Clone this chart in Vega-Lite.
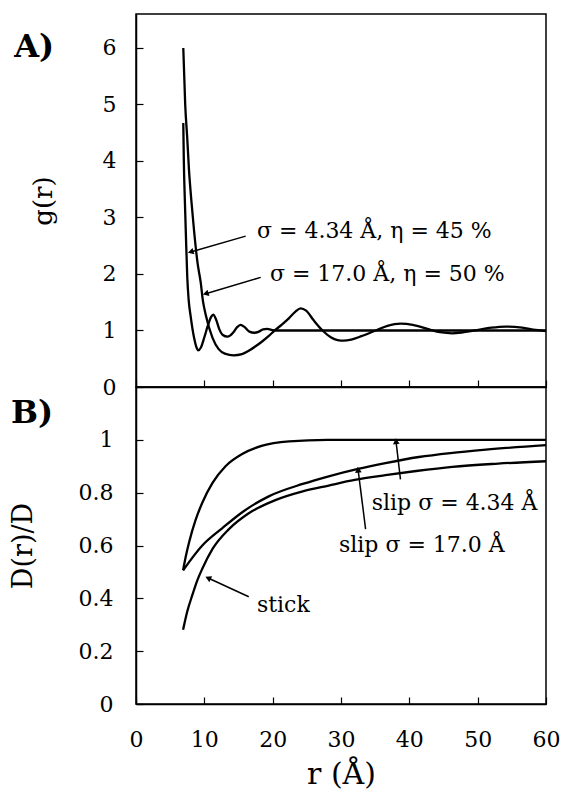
{
  "$schema": "https://vega.github.io/schema/vega-lite/v6.json",
  "padding": {"left": 8, "top": 13, "right": 5, "bottom": 5},
  "background": "white",
  "spacing": 0,
  "bounds": "flush",
  "config": {
    "view": {"stroke": "black", "strokeWidth": 1.5},
    "font": "DejaVu Serif",
    "axis": {
      "grid": false,
      "domainColor": "black",
      "domainWidth": 1.5,
      "tickColor": "black",
      "tickWidth": 1.2,
      "tickSize": -7,
      "labelColor": "black",
      "titleColor": "black",
      "labelFont": "DejaVu Serif",
      "titleFont": "DejaVu Serif",
      "titleFontWeight": "normal",
      "labelFontSize": 22,
      "titleFontSize": 26,
      "labelFlush": false,
      "labelOverlap": false
    }
  },
  "datasets": {
    "ga": [
      {"series": "s434", "r": 6.92, "v": 4.67},
      {"series": "s434", "r": 7.0, "v": 4.0},
      {"series": "s434", "r": 7.15, "v": 3.3},
      {"series": "s434", "r": 7.3, "v": 2.7},
      {"series": "s434", "r": 7.5, "v": 1.95},
      {"series": "s434", "r": 7.7, "v": 1.55},
      {"series": "s434", "r": 8.0, "v": 1.25},
      {"series": "s434", "r": 8.5, "v": 0.87},
      {"series": "s434", "r": 8.8, "v": 0.72},
      {"series": "s434", "r": 9.1, "v": 0.65},
      {"series": "s434", "r": 9.5, "v": 0.7},
      {"series": "s434", "r": 10.0, "v": 0.88},
      {"series": "s434", "r": 10.5, "v": 1.08},
      {"series": "s434", "r": 11.0, "v": 1.24},
      {"series": "s434", "r": 11.3, "v": 1.28},
      {"series": "s434", "r": 11.7, "v": 1.2},
      {"series": "s434", "r": 12.2, "v": 1.02},
      {"series": "s434", "r": 12.7, "v": 0.92},
      {"series": "s434", "r": 13.4, "v": 0.89},
      {"series": "s434", "r": 14.2, "v": 0.96},
      {"series": "s434", "r": 14.8, "v": 1.06},
      {"series": "s434", "r": 15.3, "v": 1.1},
      {"series": "s434", "r": 15.9, "v": 1.06},
      {"series": "s434", "r": 16.6, "v": 0.98},
      {"series": "s434", "r": 17.3, "v": 0.96},
      {"series": "s434", "r": 18.0, "v": 0.98},
      {"series": "s434", "r": 18.6, "v": 1.02},
      {"series": "s434", "r": 19.2, "v": 1.03},
      {"series": "s434", "r": 19.8, "v": 1.01},
      {"series": "s434", "r": 20.5, "v": 1.0},
      {"series": "s434", "r": 30, "v": 1.0},
      {"series": "s434", "r": 45, "v": 1.0},
      {"series": "s434", "r": 60, "v": 1.0},
      {"series": "s17", "r": 6.92, "v": 6.0},
      {"series": "s17", "r": 7.2, "v": 5.0},
      {"series": "s17", "r": 7.5, "v": 4.4},
      {"series": "s17", "r": 7.75, "v": 3.85},
      {"series": "s17", "r": 8.1, "v": 3.3},
      {"series": "s17", "r": 8.5, "v": 2.76},
      {"series": "s17", "r": 9.0, "v": 2.2},
      {"series": "s17", "r": 9.47, "v": 1.85},
      {"series": "s17", "r": 9.8, "v": 1.52},
      {"series": "s17", "r": 10.2, "v": 1.28},
      {"series": "s17", "r": 11.2, "v": 0.87},
      {"series": "s17", "r": 12.1, "v": 0.67},
      {"series": "s17", "r": 13.0, "v": 0.59},
      {"series": "s17", "r": 14.3, "v": 0.56},
      {"series": "s17", "r": 15.5, "v": 0.58},
      {"series": "s17", "r": 16.5, "v": 0.64},
      {"series": "s17", "r": 17.5, "v": 0.72},
      {"series": "s17", "r": 18.5, "v": 0.81},
      {"series": "s17", "r": 19.4, "v": 0.9},
      {"series": "s17", "r": 20.3, "v": 1.0},
      {"series": "s17", "r": 21.3, "v": 1.1},
      {"series": "s17", "r": 22.4, "v": 1.22},
      {"series": "s17", "r": 23.3, "v": 1.33},
      {"series": "s17", "r": 24.1, "v": 1.39},
      {"series": "s17", "r": 24.9, "v": 1.35},
      {"series": "s17", "r": 26.0, "v": 1.18},
      {"series": "s17", "r": 27.3, "v": 1.0},
      {"series": "s17", "r": 28.5, "v": 0.88},
      {"series": "s17", "r": 29.5, "v": 0.83},
      {"series": "s17", "r": 30.4, "v": 0.82},
      {"series": "s17", "r": 31.5, "v": 0.84},
      {"series": "s17", "r": 33.0, "v": 0.9},
      {"series": "s17", "r": 35.1, "v": 1.0},
      {"series": "s17", "r": 36.8, "v": 1.08},
      {"series": "s17", "r": 38.7, "v": 1.12},
      {"series": "s17", "r": 40.5, "v": 1.1},
      {"series": "s17", "r": 42.9, "v": 1.02},
      {"series": "s17", "r": 44.5, "v": 0.97},
      {"series": "s17", "r": 46.3, "v": 0.95},
      {"series": "s17", "r": 48.0, "v": 0.97},
      {"series": "s17", "r": 49.7, "v": 1.0},
      {"series": "s17", "r": 52.0, "v": 1.05},
      {"series": "s17", "r": 54.1, "v": 1.07},
      {"series": "s17", "r": 56.5, "v": 1.05},
      {"series": "s17", "r": 58.5, "v": 1.01},
      {"series": "s17", "r": 60, "v": 0.99}
    ],
    "db": [
      {"series": "slip434", "r": 6.89, "v": 0.506},
      {"series": "slip434", "r": 7.3, "v": 0.56},
      {"series": "slip434", "r": 7.8, "v": 0.615},
      {"series": "slip434", "r": 8.7, "v": 0.695},
      {"series": "slip434", "r": 9.7, "v": 0.762},
      {"series": "slip434", "r": 11.2, "v": 0.837},
      {"series": "slip434", "r": 13.1, "v": 0.9},
      {"series": "slip434", "r": 15.6, "v": 0.947},
      {"series": "slip434", "r": 18.5, "v": 0.978},
      {"series": "slip434", "r": 22.4, "v": 0.994},
      {"series": "slip434", "r": 28.0, "v": 1.0},
      {"series": "slip434", "r": 40, "v": 1.0},
      {"series": "slip434", "r": 60, "v": 1.0},
      {"series": "slip17", "r": 6.89, "v": 0.506},
      {"series": "slip17", "r": 9.7, "v": 0.6},
      {"series": "slip17", "r": 12.6, "v": 0.665},
      {"series": "slip17", "r": 15.6, "v": 0.727},
      {"series": "slip17", "r": 19.5, "v": 0.787},
      {"series": "slip17", "r": 24.4, "v": 0.833},
      {"series": "slip17", "r": 28.2, "v": 0.862},
      {"series": "slip17", "r": 32.5, "v": 0.89},
      {"series": "slip17", "r": 36.5, "v": 0.912},
      {"series": "slip17", "r": 41.4, "v": 0.935},
      {"series": "slip17", "r": 46.0, "v": 0.95},
      {"series": "slip17", "r": 51.2, "v": 0.963},
      {"series": "slip17", "r": 60, "v": 0.98},
      {"series": "stick", "r": 6.89, "v": 0.281},
      {"series": "stick", "r": 7.5, "v": 0.35},
      {"series": "stick", "r": 8.24, "v": 0.412},
      {"series": "stick", "r": 9.0, "v": 0.47},
      {"series": "stick", "r": 9.7, "v": 0.512},
      {"series": "stick", "r": 11.2, "v": 0.587},
      {"series": "stick", "r": 13.6, "v": 0.662},
      {"series": "stick", "r": 16.5, "v": 0.722},
      {"series": "stick", "r": 20.4, "v": 0.772},
      {"series": "stick", "r": 24.4, "v": 0.805},
      {"series": "stick", "r": 28.2, "v": 0.827},
      {"series": "stick", "r": 32.0, "v": 0.848},
      {"series": "stick", "r": 36.5, "v": 0.866},
      {"series": "stick", "r": 41.0, "v": 0.882},
      {"series": "stick", "r": 46.3, "v": 0.898},
      {"series": "stick", "r": 53.0, "v": 0.91},
      {"series": "stick", "r": 60, "v": 0.919}
    ],
    "txtA": [
      {"r": 17.7, "v": 2.76, "label": "σ = 4.34 Å, η = 45 %"},
      {"r": 19.6, "v": 2.0, "label": "σ = 17.0 Å, η = 50 %"}
    ],
    "txtB": [
      {"r": 34.5, "v": 0.762, "label": "slip σ = 4.34 Å"},
      {"r": 29.7, "v": 0.601, "label": "slip σ = 17.0 Å"},
      {"r": 17.7, "v": 0.376, "label": "stick"}
    ],
    "panA": [{"r": -14.9, "v": 6.02, "label": "A)"}],
    "panB": [{"r": -15.2, "v": 1.1, "label": "B)"}],
    "arrA": [
      {"id": "a1", "r": 8.0, "v": 2.39, "r2": 16.05, "v2": 2.67},
      {"id": "a2", "r": 10.2, "v": 1.65, "r2": 18.25, "v2": 1.94}
    ],
    "arrB": [
      {"id": "b1", "r": 38.05, "v": 0.995, "r2": 38.7, "v2": 0.85},
      {"id": "b2", "r": 32.5, "v": 0.887, "r2": 33.6, "v2": 0.662},
      {"id": "b3", "r": 10.55, "v": 0.477, "r2": 16.5, "v2": 0.406}
    ]
  },
  "vconcat": [
    {
      "width": 410,
      "height": 373,
      "encoding": {
        "x": {"field": "r", "type": "quantitative", "scale": {"domain": [0, 60], "nice": false, "zero": false},
              "axis": {"values": [0, 10, 20, 30, 40, 50, 60], "labels": false, "title": null}},
        "y": {"field": "v", "type": "quantitative", "scale": {"domain": [0, 6.6], "nice": false},
              "axis": {"values": [0, 1, 2, 3, 4, 5, 6], "title": "g(r)", "labelPadding": 27, "titlePadding": 46, "format": "d"}}
      },
      "layer": [
        {"data": {"name": "ga"}, "mark": {"type": "line", "color": "black", "strokeWidth": 2.3, "interpolate": "monotone"},
         "encoding": {"detail": {"field": "series"}}},
        {"data": {"name": "arrA"}, "mark": {"type": "rule", "color": "black", "strokeWidth": 1.5},
         "encoding": {"x2": {"field": "r2"}, "y2": {"field": "v2"}}},
        {"data": {"name": "arrA"}, "transform": [{"filter": "datum.id === 'a1'"}],
         "mark": {"type": "point", "shape": "triangle-up", "filled": true, "color": "black", "opacity": 1, "size": 45, "angle": 254}},
        {"data": {"name": "arrA"}, "transform": [{"filter": "datum.id === 'a2'"}],
         "mark": {"type": "point", "shape": "triangle-up", "filled": true, "color": "black", "opacity": 1, "size": 45, "angle": 253}},
        {"data": {"name": "txtA"}, "mark": {"type": "text", "align": "left", "baseline": "middle", "fontSize": 22, "font": "DejaVu Serif", "color": "black"},
         "encoding": {"text": {"field": "label"}}},
        {"data": {"name": "panA"}, "mark": {"type": "text", "align": "center", "baseline": "middle", "fontSize": 32, "fontWeight": "bold", "font": "DejaVu Serif", "color": "black"},
         "encoding": {"text": {"field": "label"}}}
      ]
    },
    {
      "width": 410,
      "height": 317,
      "encoding": {
        "x": {"field": "r", "type": "quantitative", "scale": {"domain": [0, 60], "nice": false, "zero": false},
              "axis": {"values": [0, 10, 20, 30, 40, 50, 60], "title": "r (Å)", "labelPadding": 32, "titlePadding": 9, "titleFontSize": 30, "format": "d"}},
        "y": {"field": "v", "type": "quantitative", "scale": {"domain": [0, 1.2], "nice": false},
              "axis": {"values": [0, 0.2, 0.4, 0.6, 0.8, 1], "title": "D(r)/D", "labelPadding": 30, "titlePadding": 41, "titleFontSize": 27, "format": "~g"}}
      },
      "layer": [
        {"data": {"name": "db"}, "mark": {"type": "line", "color": "black", "strokeWidth": 2.3, "interpolate": "monotone"},
         "encoding": {"detail": {"field": "series"}}},
        {"data": {"name": "arrB"}, "mark": {"type": "rule", "color": "black", "strokeWidth": 1.5},
         "encoding": {"x2": {"field": "r2"}, "y2": {"field": "v2"}}},
        {"data": {"name": "arrB"}, "transform": [{"filter": "datum.id === 'b1'"}],
         "mark": {"type": "point", "shape": "triangle-up", "filled": true, "color": "black", "opacity": 1, "size": 45, "angle": 354}},
        {"data": {"name": "arrB"}, "transform": [{"filter": "datum.id === 'b2'"}],
         "mark": {"type": "point", "shape": "triangle-up", "filled": true, "color": "black", "opacity": 1, "size": 45, "angle": 353}},
        {"data": {"name": "arrB"}, "transform": [{"filter": "datum.id === 'b3'"}],
         "mark": {"type": "point", "shape": "triangle-up", "filled": true, "color": "black", "opacity": 1, "size": 45, "angle": 295}},
        {"data": {"name": "txtB"}, "mark": {"type": "text", "align": "left", "baseline": "middle", "fontSize": 22, "font": "DejaVu Serif", "color": "black"},
         "encoding": {"text": {"field": "label"}}},
        {"data": {"name": "panB"}, "mark": {"type": "text", "align": "center", "baseline": "middle", "fontSize": 32, "fontWeight": "bold", "font": "DejaVu Serif", "color": "black"},
         "encoding": {"text": {"field": "label"}}}
      ]
    }
  ]
}
